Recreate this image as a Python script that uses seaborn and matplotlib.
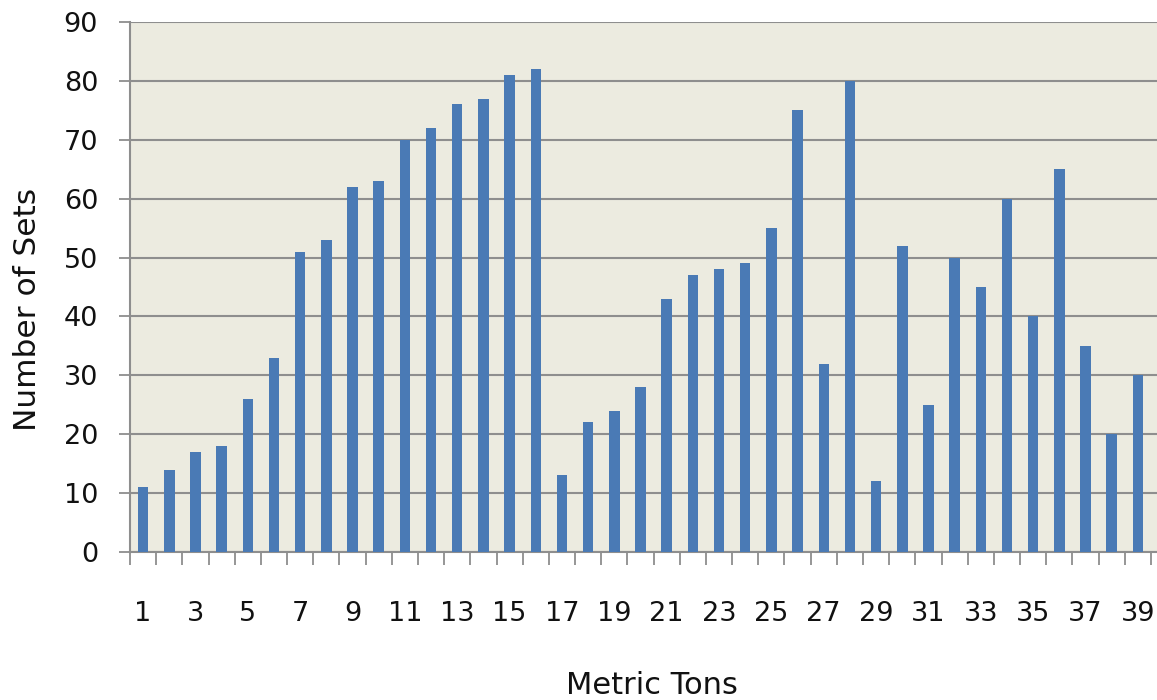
import matplotlib
matplotlib.use("Agg")
import matplotlib.pyplot as plt
import seaborn as sns
import pandas as pd
import numpy as np

# Data
categories = [str(i) for i in range(1, 40)]
values = [11, 14, 17, 18, 26, 33, 51, 53, 62, 63,
          70, 72, 76, 77, 81, 82, 13, 22, 24, 28,
          43, 47, 48, 49, 55, 75, 32, 80, 12, 52,
          25, 50, 45, 60, 40, 65, 35, 20, 30]
y_ticks = list(range(0, 91, 10))
x_label = "Metric Tons"
y_label = "Number of Sets"

df = pd.DataFrame({"cat": categories, "val": values})

sns.set_theme(style="white")
plt.rcParams['font.family'] = ['DejaVu Sans']

fig = plt.figure(figsize=(11.57, 7.0), dpi=100)
ax = fig.add_axes([130 / 1157, 148 / 700, 1 - 130 / 1157, 530 / 700])

sns.barplot(data=df, x="cat", y="val", order=categories, color="#4A7AB5",
            width=0.4, saturation=1, ax=ax, zorder=3, linewidth=0,
            edgecolor="none")

ax.set_facecolor("#ECEBE0")
ax.set_ylim(0, 90)
n = len(categories)
ax.set_xlim(-0.5, n - 0.5 + 6 / 26.18)

grid_c = "#8E8E8E"
ax.set_yticks(y_ticks)
ax.set_yticklabels([str(t) for t in y_ticks])
ax.yaxis.grid(True, color=grid_c, linewidth=1.5, zorder=0)
ax.set_axisbelow(True)

# x ticks: labels at odd categories, tick marks at category boundaries
pos = np.arange(n)
ax.set_xticks(pos[::2])
ax.set_xticklabels(categories[::2])
ax.set_xticks(np.arange(-0.5, n, 1.0), minor=True)
ax.tick_params(axis="x", which="major", length=0, pad=35, labelsize=19.5,
               labelcolor="#111111")
ax.tick_params(axis="x", which="minor", length=9, width=1.3, color=grid_c,
               direction="out", bottom=True)
ax.tick_params(axis="y", which="major", length=8, width=1.3, color=grid_c,
               direction="out", left=True, pad=15, labelsize=19.5,
               labelcolor="#111111")

for s in ["top", "right"]:
    ax.spines[s].set_visible(False)
for s in ["left", "bottom"]:
    ax.spines[s].set_color(grid_c)
    ax.spines[s].set_linewidth(1.5)

ax.set_xlabel("")
ax.set_ylabel("")
fig.text(28 / 1157, 1 - 309 / 700, y_label, rotation=90, ha="center",
         va="center", fontsize=22.5, color="#111111")
fig.text(652 / 1157, 1 - 685 / 700, x_label, ha="center", va="center",
         fontsize=22, color="#111111")

fig.savefig("out.png", dpi=100)
